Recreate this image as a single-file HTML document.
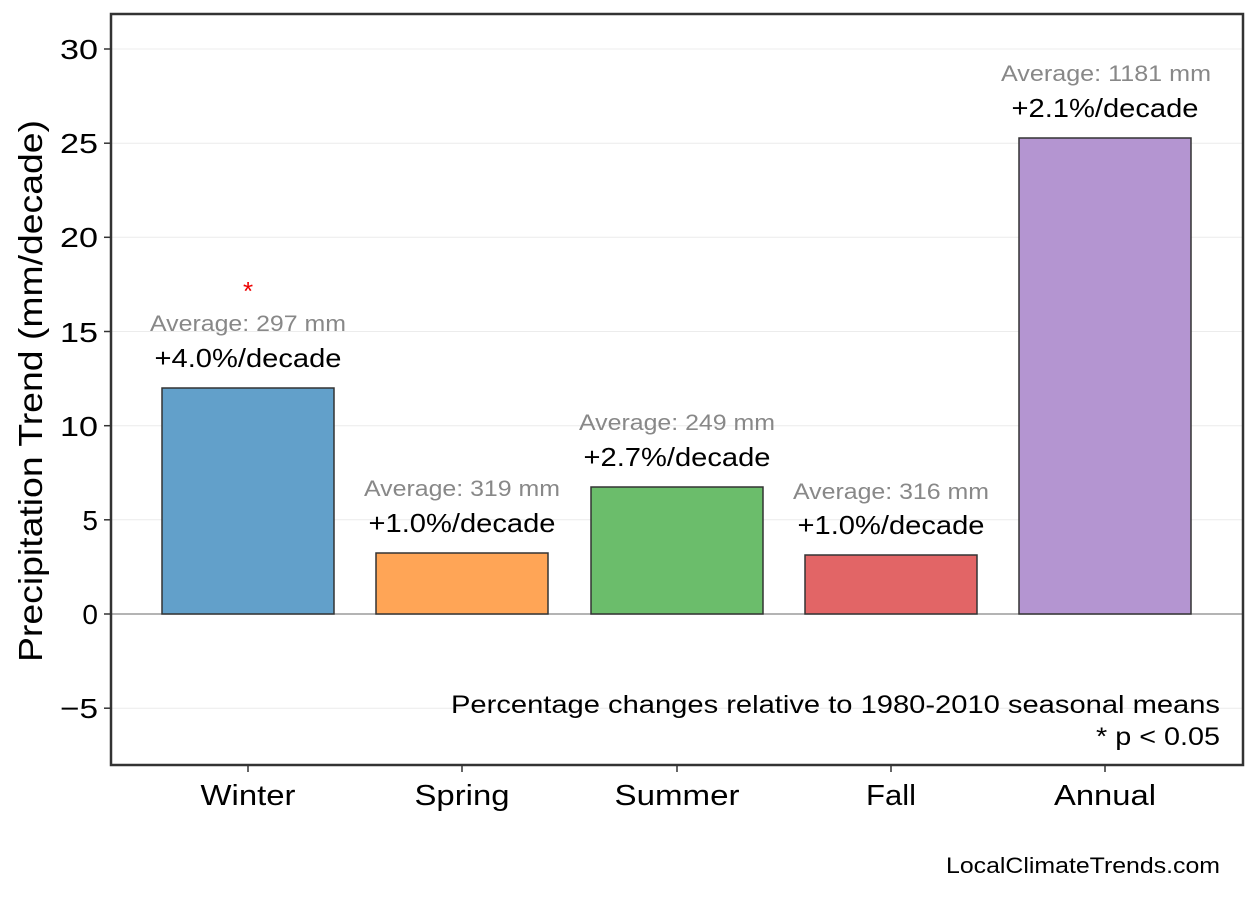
<!DOCTYPE html>
<html><head><meta charset="utf-8"><style>
body{margin:0;background:#fff;}
svg text{font-family:"Liberation Sans",Arial,sans-serif;}
</style></head><body>
<svg width="1258" height="893" xmlns="http://www.w3.org/2000/svg">
<rect width="1258" height="893" fill="#fff"/>
<g stroke="#ececec" stroke-width="1">
<line x1="111" x2="1243" y1="49" y2="49"/>
<line x1="111" x2="1243" y1="143.2" y2="143.2"/>
<line x1="111" x2="1243" y1="237.3" y2="237.3"/>
<line x1="111" x2="1243" y1="331.5" y2="331.5"/>
<line x1="111" x2="1243" y1="425.7" y2="425.7"/>
<line x1="111" x2="1243" y1="519.8" y2="519.8"/>
<line x1="111" x2="1243" y1="708.2" y2="708.2"/>
</g>
<line x1="111" x2="1243" y1="614" y2="614" stroke="#888" stroke-width="1.3"/>
<g stroke="#333" stroke-width="1.5">
<rect x="162" y="388" width="172" height="226" fill="#62a0ca"/>
<rect x="376" y="553" width="172" height="61" fill="#ffa556"/>
<rect x="591" y="487" width="172" height="127" fill="#6bbd6b"/>
<rect x="805" y="555" width="172" height="59" fill="#e26566"/>
<rect x="1019" y="138" width="172" height="476" fill="#b495d1"/>
</g>
<rect x="111" y="14" width="1132" height="751" fill="none" stroke="#333" stroke-width="2.5"/>
<g font-size="28" fill="#000" text-anchor="end" lengthAdjust="spacingAndGlyphs">
<text x="98" y="59" textLength="38" lengthAdjust="spacingAndGlyphs">30</text><text x="98" y="153" textLength="38" lengthAdjust="spacingAndGlyphs">25</text><text x="98" y="247" textLength="38" lengthAdjust="spacingAndGlyphs">20</text>
<text x="98" y="342" textLength="38" lengthAdjust="spacingAndGlyphs">15</text><text x="98" y="436" textLength="38" lengthAdjust="spacingAndGlyphs">10</text><text x="98" y="530">5</text>
<text x="98" y="624">0</text><text x="98" y="718" textLength="38" lengthAdjust="spacingAndGlyphs">−5</text>
</g>
<g stroke="#333" stroke-width="1.5">
<line x1="104" x2="111" y1="49" y2="49"/><line x1="104" x2="111" y1="143.2" y2="143.2"/>
<line x1="104" x2="111" y1="237.3" y2="237.3"/><line x1="104" x2="111" y1="331.5" y2="331.5"/>
<line x1="104" x2="111" y1="425.7" y2="425.7"/><line x1="104" x2="111" y1="519.8" y2="519.8"/>
<line x1="104" x2="111" y1="614" y2="614"/><line x1="104" x2="111" y1="708.2" y2="708.2"/>
<line x1="248" x2="248" y1="765" y2="772"/><line x1="462" x2="462" y1="765" y2="772"/>
<line x1="677" x2="677" y1="765" y2="772"/><line x1="891" x2="891" y1="765" y2="772"/>
<line x1="1105" x2="1105" y1="765" y2="772"/>
</g>
<g font-size="29" text-anchor="middle" fill="#000">
<text x="248" y="805" textLength="95" lengthAdjust="spacingAndGlyphs">Winter</text>
<text x="462" y="805" textLength="95" lengthAdjust="spacingAndGlyphs">Spring</text>
<text x="677" y="805" textLength="125" lengthAdjust="spacingAndGlyphs">Summer</text>
<text x="891" y="805" textLength="50" lengthAdjust="spacingAndGlyphs">Fall</text>
<text x="1105" y="805" textLength="102" lengthAdjust="spacingAndGlyphs">Annual</text>
</g>
<text transform="translate(42,391) rotate(-90)" font-size="33" text-anchor="middle" textLength="542" lengthAdjust="spacingAndGlyphs">Precipitation Trend (mm/decade)</text>
<g font-size="22" fill="#888" text-anchor="middle">
<text x="248" y="331" textLength="196" lengthAdjust="spacingAndGlyphs">Average: 297 mm</text>
<text x="462" y="496" textLength="196" lengthAdjust="spacingAndGlyphs">Average: 319 mm</text>
<text x="677" y="430" textLength="196" lengthAdjust="spacingAndGlyphs">Average: 249 mm</text>
<text x="891" y="499" textLength="196" lengthAdjust="spacingAndGlyphs">Average: 316 mm</text>
<text x="1106" y="81" textLength="210" lengthAdjust="spacingAndGlyphs">Average: 1181 mm</text>
</g>
<g font-size="26" fill="#000" text-anchor="middle">
<text x="248" y="367" textLength="187" lengthAdjust="spacingAndGlyphs">+4.0%/decade</text>
<text x="462" y="532" textLength="187" lengthAdjust="spacingAndGlyphs">+1.0%/decade</text>
<text x="677" y="466" textLength="187" lengthAdjust="spacingAndGlyphs">+2.7%/decade</text>
<text x="891" y="534" textLength="187" lengthAdjust="spacingAndGlyphs">+1.0%/decade</text>
<text x="1105" y="117" textLength="187" lengthAdjust="spacingAndGlyphs">+2.1%/decade</text>
</g>
<text x="248" y="300" font-size="26" fill="#e00" text-anchor="middle">*</text>
<g font-size="25" text-anchor="end" fill="#000">
<text x="1220" y="713" textLength="769" lengthAdjust="spacingAndGlyphs">Percentage changes relative to 1980-2010 seasonal means</text>
<text x="1220" y="745" textLength="124" lengthAdjust="spacingAndGlyphs">* p &lt; 0.05</text>
<text x="1220" y="873" font-size="22" textLength="274" lengthAdjust="spacingAndGlyphs">LocalClimateTrends.com</text>
</g>
</svg>
</body></html>
